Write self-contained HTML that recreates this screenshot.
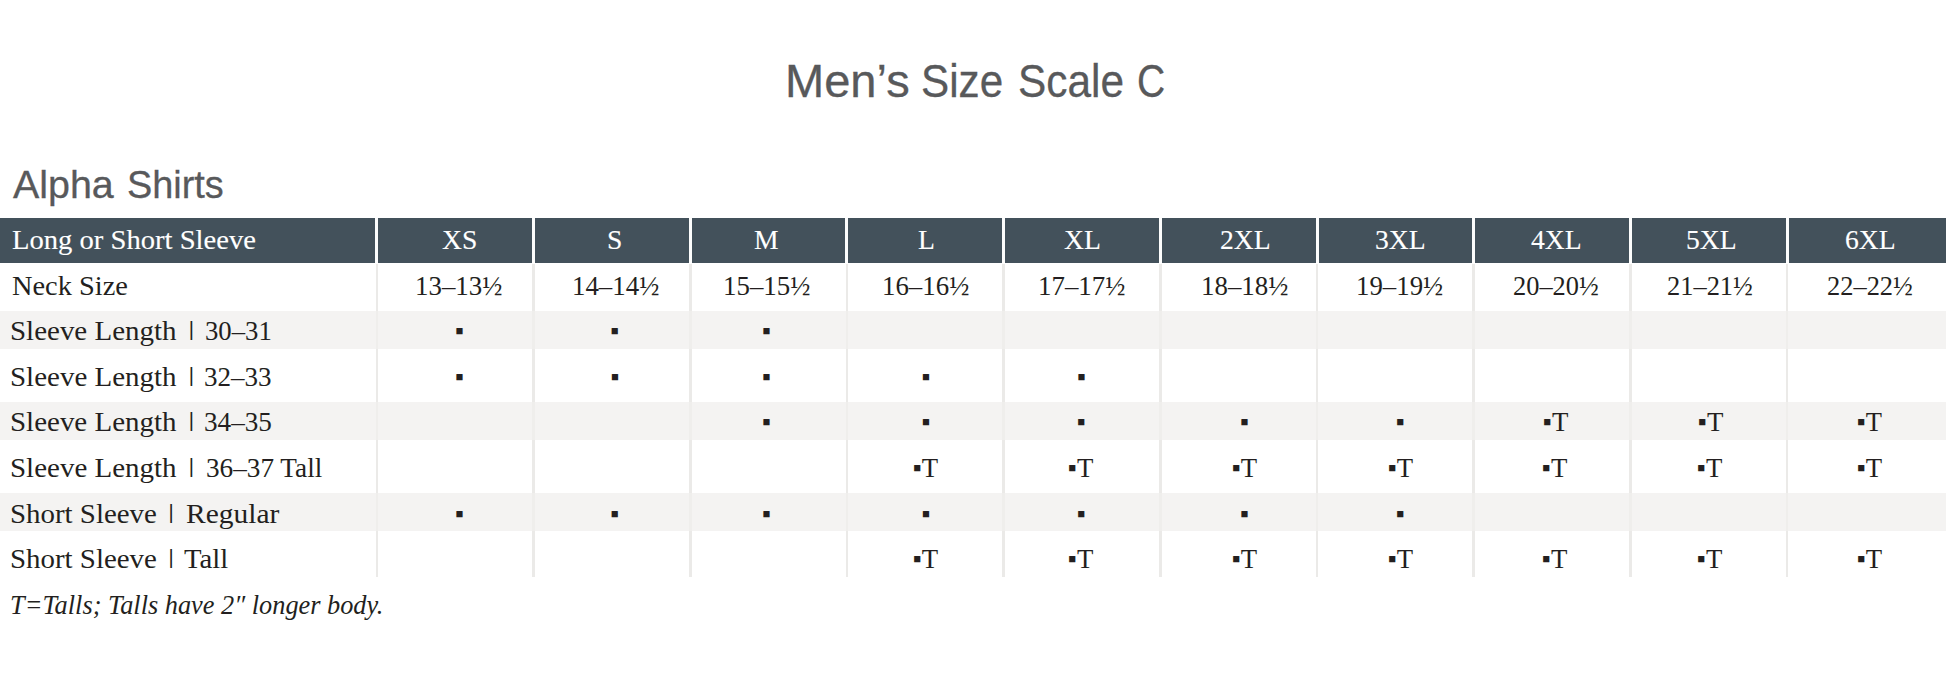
<!DOCTYPE html>
<html lang="en"><head><meta charset="utf-8"><title>Men’s Size Scale C</title>
<style>
html,body{margin:0;padding:0;background:#fff;}
body{width:1946px;height:681px;position:relative;overflow:hidden;font-family:"Liberation Serif",serif;color:#231f20;}
.abs{position:absolute;white-space:nowrap;line-height:1;}
.x{transform-origin:0 0;}
.sans{font-family:"Liberation Sans",sans-serif;color:#58595b;-webkit-text-stroke:0.3px #58595b;}
.hdr{left:0;top:217.8px;width:1946px;height:45.7px;background:#43515b;}
.band{left:0;width:1946px;background:rgba(240,239,237,0.74);}
.vline{width:2.7px;top:263.5px;height:313.6px;background:#ebeae8;}
.hline{width:3px;top:217.8px;height:45.7px;background:#fdfdfd;}
.w{color:#fff;-webkit-text-stroke:0.12px #fff;}
.it{font-style:italic;}
.q{font-size:25px;position:relative;top:-1px;}
.bar{font-family:"Liberation Sans",sans-serif;font-size:20px;}
</style></head><body>

<div class="abs hdr"></div>
<div class="abs vline" style="left:375.50px"></div>
<div class="abs hline" style="left:375.30px"></div>
<div class="abs vline" style="left:532.20px"></div>
<div class="abs hline" style="left:532.00px"></div>
<div class="abs vline" style="left:688.90px"></div>
<div class="abs hline" style="left:688.70px"></div>
<div class="abs vline" style="left:845.60px"></div>
<div class="abs hline" style="left:845.40px"></div>
<div class="abs vline" style="left:1002.30px"></div>
<div class="abs hline" style="left:1002.10px"></div>
<div class="abs vline" style="left:1159.00px"></div>
<div class="abs hline" style="left:1158.80px"></div>
<div class="abs vline" style="left:1315.70px"></div>
<div class="abs hline" style="left:1315.50px"></div>
<div class="abs vline" style="left:1472.40px"></div>
<div class="abs hline" style="left:1472.20px"></div>
<div class="abs vline" style="left:1629.10px"></div>
<div class="abs hline" style="left:1628.90px"></div>
<div class="abs vline" style="left:1785.80px"></div>
<div class="abs hline" style="left:1785.60px"></div>
<div class="abs band" style="top:311px;height:37.6px"></div>
<div class="abs band" style="top:402px;height:37.9px"></div>
<div class="abs band" style="top:493.0px;height:37.5px"></div>
<div id="title0" class="abs x sans" style="left:784.89px;top:59.00px;font-size:45.3px;transform:scaleX(1.0387)">Men’s</div>
<div id="title1" class="abs x sans" style="left:921.44px;top:59.00px;font-size:45.3px;transform:scaleX(0.9317)">Size</div>
<div id="title2" class="abs x sans" style="left:1017.88px;top:59.00px;font-size:45.3px;transform:scaleX(0.9356)">Scale</div>
<div id="title3" class="abs x sans" style="left:1136.74px;top:59.00px;font-size:45.3px;transform:scaleX(0.8627)">C</div>
<div id="sub0" class="abs x sans" style="left:12.72px;top:166.00px;font-size:38px;transform:scaleX(1.0369)">Alpha</div>
<div id="sub1" class="abs x sans" style="left:127.20px;top:166.00px;font-size:38px;transform:scaleX(0.9959)">Shirts</div>
<div id="h0" class="abs x w" style="left:11.89px;top:227.00px;font-size:26.8px;transform:scaleX(1.0675)">Long or Short Sleeve</div>
<div id="h1" class="abs x w" style="left:442.02px;top:227.00px;font-size:26.8px;transform:scaleX(1.0300)">XS</div>
<div id="h2" class="abs x w" style="left:606.99px;top:227.00px;font-size:26.8px;transform:scaleX(1.0300)">S</div>
<div id="h3" class="abs x w" style="left:753.88px;top:227.00px;font-size:26.8px;transform:scaleX(1.0300)">M</div>
<div id="h4" class="abs x w" style="left:917.68px;top:227.00px;font-size:26.8px;transform:scaleX(1.0300)">L</div>
<div id="h5" class="abs x w" style="left:1063.59px;top:227.00px;font-size:26.8px;transform:scaleX(1.0300)">XL</div>
<div id="h6" class="abs x w" style="left:1219.56px;top:227.00px;font-size:26.8px;transform:scaleX(1.0300)">2XL</div>
<div id="h7" class="abs x w" style="left:1375.49px;top:227.00px;font-size:26.8px;transform:scaleX(1.0300)">3XL</div>
<div id="h8" class="abs x w" style="left:1530.51px;top:227.00px;font-size:26.8px;transform:scaleX(1.0300)">4XL</div>
<div id="h9" class="abs x w" style="left:1685.66px;top:227.00px;font-size:26.8px;transform:scaleX(1.0300)">5XL</div>
<div id="h10" class="abs x w" style="left:1844.72px;top:227.00px;font-size:26.8px;transform:scaleX(1.0300)">6XL</div>
<div id="l0" class="abs x " style="left:12.19px;top:273.00px;font-size:26.8px;transform:scaleX(1.0591)">Neck Size</div>
<div id="c0_0" class="abs x " style="left:415.48px;top:273.00px;font-size:26.8px;transform:scaleX(1.0038)">13–13½</div>
<div id="c0_1" class="abs x " style="left:571.71px;top:273.00px;font-size:26.8px;transform:scaleX(1.0029)">14–14½</div>
<div id="c0_2" class="abs x " style="left:722.88px;top:273.00px;font-size:26.8px;transform:scaleX(1.0038)">15–15½</div>
<div id="c0_3" class="abs x " style="left:882.01px;top:273.00px;font-size:26.8px;transform:scaleX(1.0029)">16–16½</div>
<div id="c0_4" class="abs x " style="left:1038.08px;top:273.00px;font-size:26.8px;transform:scaleX(1.0038)">17–17½</div>
<div id="c0_5" class="abs x " style="left:1200.88px;top:273.00px;font-size:26.8px;transform:scaleX(1.0038)">18–18½</div>
<div id="c0_6" class="abs x " style="left:1355.62px;top:273.00px;font-size:26.8px;transform:scaleX(1.0010)">19–19½</div>
<div id="c0_7" class="abs x " style="left:1512.58px;top:273.00px;font-size:26.8px;transform:scaleX(0.9858)">20–20½</div>
<div id="c0_8" class="abs x " style="left:1667.42px;top:273.00px;font-size:26.8px;transform:scaleX(0.9859)">21–21½</div>
<div id="c0_9" class="abs x " style="left:1826.92px;top:273.00px;font-size:26.8px;transform:scaleX(0.9859)">22–22½</div>
<div id="l1" class="abs x " style="left:10.31px;top:318.00px;font-size:26.8px;transform:scaleX(1.0812)">Sleeve Length</div>
<div id="s1" class="abs x " style="left:205.12px;top:318.00px;font-size:26.8px;transform:scaleX(0.9973)">30–31</div>
<div id="c1_0" class="abs x sq" style="left:455.15px;top:318.00px;font-size:26.8px;transform:scaleX(1.0000)"><span class="q">▪</span></div>
<div id="c1_1" class="abs x sq" style="left:610.54px;top:318.00px;font-size:26.8px;transform:scaleX(1.0000)"><span class="q">▪</span></div>
<div id="c1_2" class="abs x sq" style="left:762.25px;top:318.00px;font-size:26.8px;transform:scaleX(1.0000)"><span class="q">▪</span></div>
<div id="l2" class="abs x " style="left:10.33px;top:364.00px;font-size:26.8px;transform:scaleX(1.0814)">Sleeve Length</div>
<div id="s2" class="abs x " style="left:204.39px;top:364.00px;font-size:26.8px;transform:scaleX(1.0091)">32–33</div>
<div id="c2_0" class="abs x sq" style="left:455.19px;top:364.00px;font-size:26.8px;transform:scaleX(1.0000)"><span class="q">▪</span></div>
<div id="c2_1" class="abs x sq" style="left:610.67px;top:364.00px;font-size:26.8px;transform:scaleX(1.0000)"><span class="q">▪</span></div>
<div id="c2_2" class="abs x sq" style="left:762.25px;top:364.00px;font-size:26.8px;transform:scaleX(1.0000)"><span class="q">▪</span></div>
<div id="c2_3" class="abs x sq" style="left:921.84px;top:364.00px;font-size:26.8px;transform:scaleX(1.0000)"><span class="q">▪</span></div>
<div id="c2_4" class="abs x sq" style="left:1077.16px;top:364.00px;font-size:26.8px;transform:scaleX(1.0000)"><span class="q">▪</span></div>
<div id="l3" class="abs x " style="left:10.31px;top:409.00px;font-size:26.8px;transform:scaleX(1.0812)">Sleeve Length</div>
<div id="s3" class="abs x " style="left:204.24px;top:409.00px;font-size:26.8px;transform:scaleX(1.0138)">34–35</div>
<div id="c3_2" class="abs x sq" style="left:762.25px;top:409.00px;font-size:26.8px;transform:scaleX(1.0000)"><span class="q">▪</span></div>
<div id="c3_3" class="abs x sq" style="left:921.86px;top:409.00px;font-size:26.8px;transform:scaleX(1.0000)"><span class="q">▪</span></div>
<div id="c3_4" class="abs x sq" style="left:1077.09px;top:409.00px;font-size:26.8px;transform:scaleX(1.0000)"><span class="q">▪</span></div>
<div id="c3_5" class="abs x sq" style="left:1240.25px;top:409.00px;font-size:26.8px;transform:scaleX(1.0000)"><span class="q">▪</span></div>
<div id="c3_6" class="abs x sq" style="left:1395.96px;top:409.00px;font-size:26.8px;transform:scaleX(1.0000)"><span class="q">▪</span></div>
<div id="c3_7" class="abs x sq" style="left:1542.90px;top:409.00px;font-size:26.8px;transform:scaleX(1.0005)"><span class="q">▪</span>T</div>
<div id="c3_8" class="abs x sq" style="left:1698.00px;top:409.00px;font-size:26.8px;transform:scaleX(1.0005)"><span class="q">▪</span>T</div>
<div id="c3_9" class="abs x sq" style="left:1857.01px;top:409.00px;font-size:26.8px;transform:scaleX(0.9897)"><span class="q">▪</span>T</div>
<div id="l4" class="abs x " style="left:10.33px;top:455.00px;font-size:26.8px;transform:scaleX(1.0814)">Sleeve Length</div>
<div id="s4" class="abs x " style="left:205.96px;top:455.00px;font-size:26.8px;transform:scaleX(1.0158)">36–37 Tall</div>
<div id="c4_3" class="abs x sq" style="left:912.98px;top:455.00px;font-size:26.8px;transform:scaleX(1.0000)"><span class="q">▪</span>T</div>
<div id="c4_4" class="abs x sq" style="left:1067.99px;top:455.00px;font-size:26.8px;transform:scaleX(1.0001)"><span class="q">▪</span>T</div>
<div id="c4_5" class="abs x sq" style="left:1231.79px;top:455.00px;font-size:26.8px;transform:scaleX(0.9993)"><span class="q">▪</span>T</div>
<div id="c4_6" class="abs x sq" style="left:1387.56px;top:455.00px;font-size:26.8px;transform:scaleX(0.9979)"><span class="q">▪</span>T</div>
<div id="c4_7" class="abs x sq" style="left:1541.99px;top:455.00px;font-size:26.8px;transform:scaleX(1.0001)"><span class="q">▪</span>T</div>
<div id="c4_8" class="abs x sq" style="left:1697.37px;top:455.00px;font-size:26.8px;transform:scaleX(1.0001)"><span class="q">▪</span>T</div>
<div id="c4_9" class="abs x sq" style="left:1856.98px;top:455.00px;font-size:26.8px;transform:scaleX(1.0000)"><span class="q">▪</span>T</div>
<div id="l5" class="abs x " style="left:10.38px;top:501.00px;font-size:26.8px;transform:scaleX(1.0784)">Short Sleeve</div>
<div id="s5" class="abs x " style="left:186.21px;top:501.00px;font-size:26.8px;transform:scaleX(1.0999)">Regular</div>
<div id="c5_0" class="abs x sq" style="left:455.15px;top:501.00px;font-size:26.8px;transform:scaleX(1.0000)"><span class="q">▪</span></div>
<div id="c5_1" class="abs x sq" style="left:610.54px;top:501.00px;font-size:26.8px;transform:scaleX(1.0000)"><span class="q">▪</span></div>
<div id="c5_2" class="abs x sq" style="left:762.25px;top:501.00px;font-size:26.8px;transform:scaleX(1.0000)"><span class="q">▪</span></div>
<div id="c5_3" class="abs x sq" style="left:921.86px;top:501.00px;font-size:26.8px;transform:scaleX(1.0000)"><span class="q">▪</span></div>
<div id="c5_4" class="abs x sq" style="left:1077.09px;top:501.00px;font-size:26.8px;transform:scaleX(1.0000)"><span class="q">▪</span></div>
<div id="c5_5" class="abs x sq" style="left:1240.25px;top:501.00px;font-size:26.8px;transform:scaleX(1.0000)"><span class="q">▪</span></div>
<div id="c5_6" class="abs x sq" style="left:1395.96px;top:501.00px;font-size:26.8px;transform:scaleX(1.0000)"><span class="q">▪</span></div>
<div id="l6" class="abs x " style="left:10.39px;top:546.00px;font-size:26.8px;transform:scaleX(1.0784)">Short Sleeve</div>
<div id="s6" class="abs x " style="left:183.72px;top:546.00px;font-size:26.8px;transform:scaleX(1.0735)">Tall</div>
<div id="c6_3" class="abs x sq" style="left:912.98px;top:546.00px;font-size:26.8px;transform:scaleX(1.0000)"><span class="q">▪</span>T</div>
<div id="c6_4" class="abs x sq" style="left:1067.99px;top:546.00px;font-size:26.8px;transform:scaleX(1.0001)"><span class="q">▪</span>T</div>
<div id="c6_5" class="abs x sq" style="left:1231.79px;top:546.00px;font-size:26.8px;transform:scaleX(0.9993)"><span class="q">▪</span>T</div>
<div id="c6_6" class="abs x sq" style="left:1387.56px;top:546.00px;font-size:26.8px;transform:scaleX(0.9979)"><span class="q">▪</span>T</div>
<div id="c6_7" class="abs x sq" style="left:1541.99px;top:546.00px;font-size:26.8px;transform:scaleX(1.0001)"><span class="q">▪</span>T</div>
<div id="c6_8" class="abs x sq" style="left:1697.37px;top:546.00px;font-size:26.8px;transform:scaleX(1.0001)"><span class="q">▪</span>T</div>
<div id="c6_9" class="abs x sq" style="left:1856.98px;top:546.00px;font-size:26.8px;transform:scaleX(1.0000)"><span class="q">▪</span>T</div>
<div id="note" class="abs x it" style="left:10.49px;top:592.00px;font-size:26.8px;transform:scaleX(0.9821)">T=Talls; Talls have 2″ longer body.</div>
<div class="abs bar" id="b0" style="left:188.70px;top:319.00px">|</div>
<div class="abs bar" id="b1" style="left:188.70px;top:365.00px">|</div>
<div class="abs bar" id="b2" style="left:188.70px;top:410.00px">|</div>
<div class="abs bar" id="b3" style="left:188.70px;top:456.00px">|</div>
<div class="abs bar" id="b4" style="left:168.40px;top:502.00px">|</div>
<div class="abs bar" id="b5" style="left:168.40px;top:547.00px">|</div>
</body></html>
